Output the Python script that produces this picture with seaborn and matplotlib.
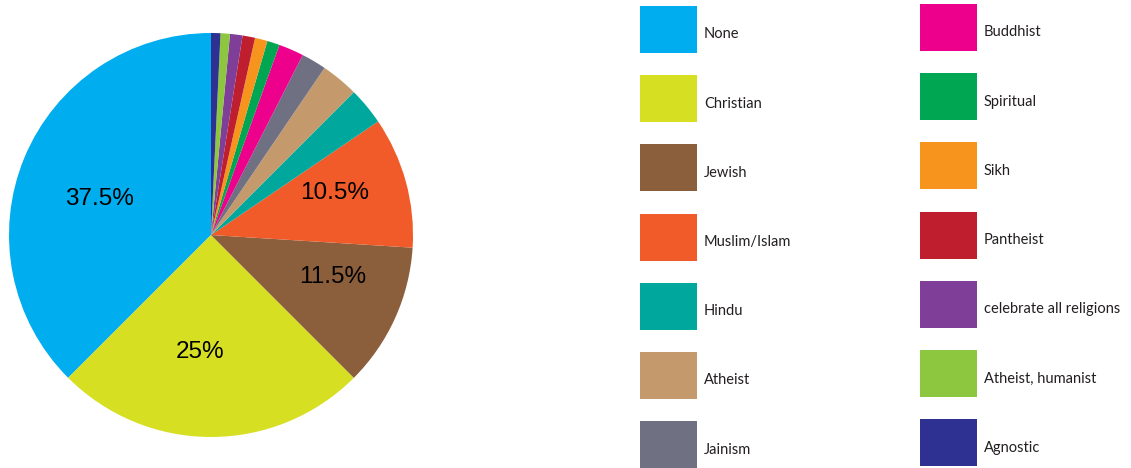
import matplotlib
matplotlib.use("Agg")
import matplotlib.pyplot as plt
from matplotlib.patches import Rectangle
import seaborn as sns

# Share of respondents by religion / belief (percent)
categories = ["None", "Christian", "Jewish", "Muslim/Islam", "Hindu", "Atheist", "Jainism",
              "Buddhist", "Spiritual", "Sikh", "Pantheist", "celebrate all religions",
              "Atheist, humanist", "Agnostic"]
shares = [37.5, 25, 11.5, 10.5, 3, 3, 2, 2, 1, 1, 1, 1, 0.75, 0.75]
colors = ["#00AEEF", "#D7DF23", "#8B5E3C", "#F15A29", "#00A79D", "#C49A6C", "#6F7082",
          "#EC008C", "#00A651", "#F7941D", "#BE1E2D", "#7F3F98", "#8DC63F", "#2E3192"]

# Placement of the percentage labels inside the large wedges (unit-circle coords)
label_pos = {"None": (-0.55, 0.18), "Christian": (-0.054, -0.58),
             "Jewish": (0.604, -0.21), "Muslim/Islam": (0.614, 0.21)}

sns.set_theme(style="white")
palette = sns.color_palette(colors)

W, H = 1131, 468
fig = plt.figure(figsize=(W / 100, H / 100), dpi=100)

# Legend drawn in pixel-like coordinates on a full-figure axes
leg = fig.add_axes([0, 0, 1, 1])
leg.set_xlim(0, W)
leg.set_ylim(H, 0)
leg.axis("off")

col_x = [640, 920]
col_top = [6, 4]
row_step = 69.2
sq_w, sq_h = 57, 47
for i, (name, c) in enumerate(zip(categories, palette)):
    col, row = divmod(i, 7)
    x0 = col_x[col]
    y0 = col_top[col] + row * row_step
    leg.add_patch(Rectangle((x0, y0), sq_w, sq_h, facecolor=c, edgecolor="none"))
    leg.text(x0 + sq_w + 7, y0 + sq_h / 2 + 5, name, fontsize=10.5, family="Lato",
             color="#231F20", va="center", ha="left")

# Pie
R = 202
cx, cy = 211, 235
ax = fig.add_axes([(cx - R) / W, (H - cy - R) / H, 2 * R / W, 2 * R / H])


def pct_label(p):
    if p < 5:
        return ""
    return f"{round(p, 1):g}%"


wedges, _, autotexts = ax.pie(shares, colors=palette, startangle=90, counterclock=True,
                              autopct=pct_label, pctdistance=0.6,
                              wedgeprops=dict(linewidth=0),
                              textprops=dict(fontsize=17.5, family="Liberation Sans",
                                             color="black"))
for name, t in zip(categories, autotexts):
    if name in label_pos:
        t.set_position(label_pos[name])

ax.set_xlim(-1.0, 1.0)
ax.set_ylim(-1.0, 1.0)
ax.set_aspect("equal")
for w in wedges:
    w.set_clip_on(False)

fig.savefig("out.png", dpi=100)
